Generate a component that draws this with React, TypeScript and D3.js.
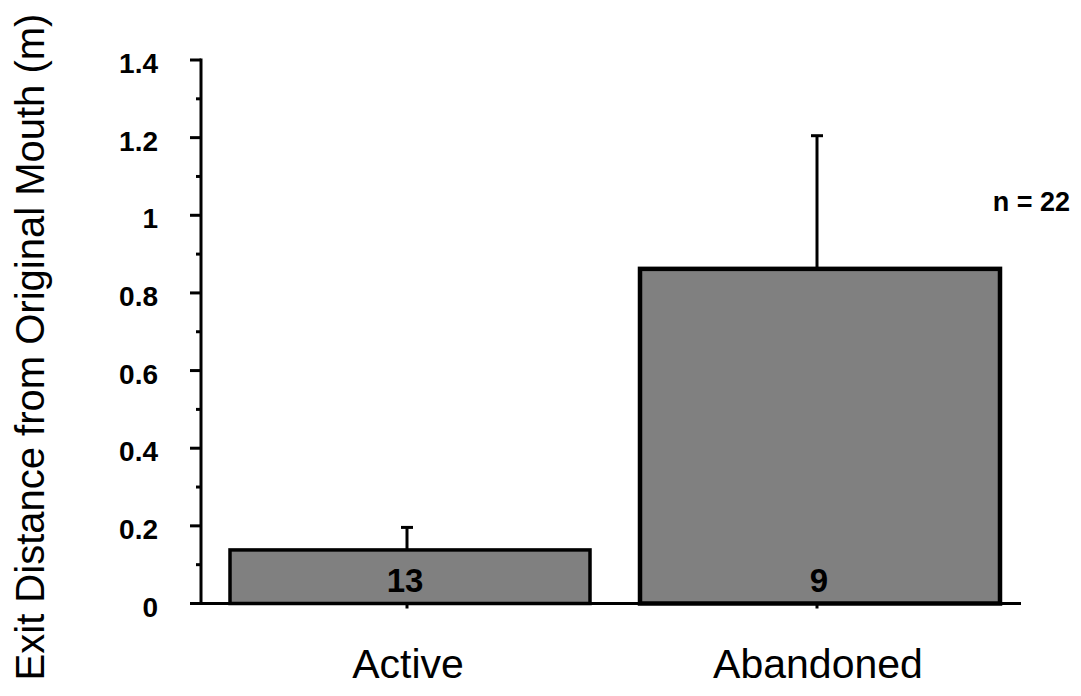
import React from "react";
import * as d3 from "d3";

const categories = ["Active", "Abandoned"];
const means = [0.138, 0.862];
const errors = [0.058, 0.343];
const counts = ["13", "9"];
const yTicks = [0, 0.2, 0.4, 0.6, 0.8, 1, 1.2, 1.4];
const yMinorTicks = [0.1, 0.3, 0.5, 0.7, 0.9, 1.1, 1.3];
const yTickLabels = ["0", "0.2", "0.4", "0.6", "0.8", "1", "1.2", "1.4"];
const yTitle = "Exit Distance from Original Mouth (m)";
const note = "n = 22";

const W = 1081;
const H = 696;
const FONT = "'Liberation Sans', Arial, Helvetica, sans-serif";

export default function App() {
  const y = d3.scaleLinear().domain([0, 1.4]).range([603.5, 60]);
  const x = d3.scaleBand<string>().domain(categories).range([201, 1021]).padding(0);
  const bw = x.bandwidth();
  const barInset = 29;
  const barW = 360;
  const y0 = y(0);

  return (
    <svg
      width={W}
      height={H}
      style={{ position: "absolute", left: 0, top: 0, background: "#fff" }}
      fontFamily={FONT}
    >
      {/* y title */}
      <text
        transform={`translate(44, 347) rotate(-90)`}
        textAnchor="middle"
        fontSize={40}
        fill="#000"
      >
        {yTitle}
      </text>

      {/* bars */}
      {categories.map((c, i) => (
        <rect
          key={c}
          x={(x(c) as number) + barInset}
          y={y(means[i])}
          width={barW}
          height={y0 - y(means[i])}
          fill="#808080"
          stroke="#000"
          strokeWidth={i === 0 ? 3.5 : 4.5}
        />
      ))}

      {/* error bars */}
      {categories.map((c, i) => {
        const cx = (x(c) as number) + bw / 2 + 1;
        const top = y(means[i] + errors[i]);
        return (
          <g key={c + "err"} stroke="#000" strokeWidth={3}>
            <line x1={cx} x2={cx} y1={y(means[i])} y2={top} />
            <line x1={cx - 6} x2={cx + 6} y1={top} y2={top} />
          </g>
        );
      })}

      {/* y axis */}
      <line x1={201} x2={201} y1={y(1.4) - 1.5} y2={y0 + 1.5} stroke="#000" strokeWidth={3} />
      {yTicks.map((t) => (
        <line key={"t" + t} x1={190} x2={201} y1={y(t)} y2={y(t)} stroke="#000" strokeWidth={3} />
      ))}
      {yMinorTicks.map((t) => (
        <line key={"m" + t} x1={196} x2={201} y1={y(t)} y2={y(t)} stroke="#000" strokeWidth={3} />
      ))}
      {yTicks.map((t, i) => (
        <text
          key={"l" + t}
          x={158}
          y={y(t) + 13}
          textAnchor="end"
          fontSize={28}
          fontWeight="bold"
          fill="#000"
        >
          {yTickLabels[i]}
        </text>
      ))}

      {/* x axis */}
      <line x1={190} x2={1021} y1={y0} y2={y0} stroke="#000" strokeWidth={3} />
      {categories.map((c) => {
        const cx = (x(c) as number) + bw / 2 + 1;
        return <line key={c + "tk"} x1={cx} x2={cx} y1={y0} y2={y0 + 5} stroke="#000" strokeWidth={3} />;
      })}

      {/* counts in bars */}
      {categories.map((c, i) => (
        <text
          key={c + "n"}
          x={(x(c) as number) + bw / 2 + (i === 0 ? -1 : 3)}
          y={592}
          textAnchor="middle"
          fontSize={33}
          fontWeight="bold"
          fill="#000"
        >
          {counts[i]}
        </text>
      ))}

      {/* category labels */}
      {categories.map((c) => (
        <text
          key={c + "lab"}
          x={(x(c) as number) + bw / 2 + 2}
          y={678}
          textAnchor="middle"
          fontSize={41}
          fill="#000"
        >
          {c}
        </text>
      ))}

      {/* note */}
      <text x={1070} y={211} textAnchor="end" fontSize={27} fontWeight="bold" fill="#000">
        {note}
      </text>
    </svg>
  );
}
